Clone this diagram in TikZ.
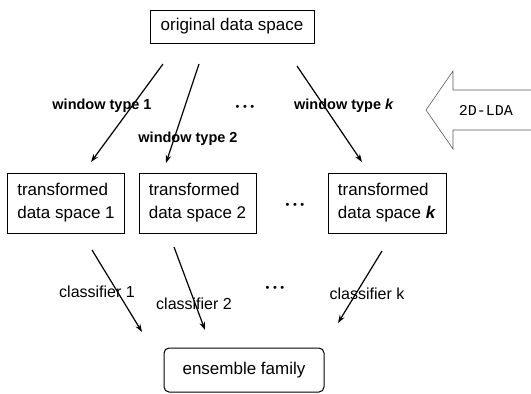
\documentclass[tikz,border=0pt]{standalone}
\usepackage{fontspec}
\setmainfont{Liberation Sans}
\newfontfamily\monofam{Liberation Mono}
\usetikzlibrary{arrows.meta}
\begin{document}
\begin{tikzpicture}[x=1pt,y=-1pt,
  box/.style={draw, line width=1pt, inner sep=0pt, font=\fontsize{17}{23}\selectfont, align=left},
  lbl/.style={font=\bfseries\fontsize{14.5}{17}\selectfont, inner sep=0pt},
  clbl/.style={font=\fontsize{16}{18}\selectfont, inner sep=0pt},
  dots/.style={font=\fontsize{11}{13}\selectfont, inner sep=0pt},
  conn/.style={line width=1.2pt, -{Stealth[length=8pt,width=5.5pt]}}]
\useasboundingbox (0,0) rectangle (531,394);
% boxes
\node[box, minimum width=164pt, minimum height=33pt] (orig) at (232,26.5) {original data space};
\node[box, minimum width=117pt, minimum height=60pt] (t1) at (66,203) {transformed\\data space 1};
\node[box, minimum width=117pt, minimum height=60pt] (t2) at (197.5,203) {transformed\\data space 2};
\node[box, minimum width=118pt, minimum height=60pt] (tk) at (387,203) {transformed\\data space \textbf{\textit{k}}};
\node[box, rounded corners=5pt, minimum width=160pt, minimum height=44pt, align=center] (ens) at (244,370) {ensemble family};
% top connectors
\coordinate (a1s) at (163,64); \coordinate (a1e) at (91,162);
\coordinate (a2s) at (199,64); \coordinate (a2e) at (166,163);
\coordinate (aks) at (297,66); \coordinate (ake) at (362,162);
\draw[conn] (a1s) -- (a1e);
\draw[conn] (a2s) -- (a2e);
\draw[conn] (aks) -- (ake);
% bottom connectors
\coordinate (b1s) at (92,250); \coordinate (b1e) at (142,332);
\coordinate (b2s) at (174,247); \coordinate (b2e) at (205,330);
\coordinate (bks) at (382,251); \coordinate (bke) at (338,323);
\draw[conn] (b1s) -- (b1e);
\draw[conn] (b2s) -- (b2e);
\draw[conn] (bks) -- (bke);
% labels
\node[lbl] (w1) at (102,106) {window type 1};
\node[lbl] (w2) at (188,139) {window type 2};
\node[lbl] (wk) at (344,106) {window type \textit{k}};
\node[dots] (d1) at (245,108) {•\hspace{3.5pt}•\hspace{3.5pt}•};
\node[dots] (d2) at (295,206) {•\hspace{3.5pt}•\hspace{3.5pt}•};
\node[dots] (d3) at (275,289) {•\hspace{3.5pt}•\hspace{3.5pt}•};
\node[clbl] (c1) at (97,292) {classifier 1};
\node[clbl] (c2) at (194,304) {classifier 2};
\node[clbl] (ck) at (367,294) {classifier k};
% 2D-LDA arrow
\draw[line width=0.6pt, gray!70!black] (531,90) -- (453,90) -- (453,71) -- (426,110) -- (453,149) -- (453,130) -- (531,130);
\node[font=\monofam\fontsize{15}{17}\selectfont, inner sep=0pt] (lda) at (486,110) {2D-LDA};
\end{tikzpicture}
\end{document}
